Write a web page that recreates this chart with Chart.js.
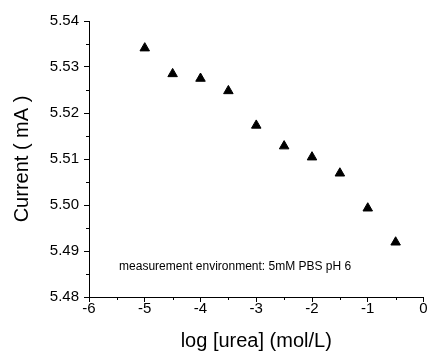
<!DOCTYPE html>
<html>
<head>
<meta charset="utf-8">
<script src="https://cdn.jsdelivr.net/npm/chart.js@4.4.1/dist/chart.umd.min.js"></script>
<style>
  html, body { margin: 0; padding: 0; background: #fff; }
  #wrap { width: 430px; height: 351px; position: relative; }
</style>
</head>
<body>
<div id="wrap"><canvas id="chart"></canvas></div>
<script>
// data
const logUrea = [-5, -4.5, -4, -3.5, -3, -2.5, -2, -1.5, -1, -0.5];
const current = [5.5341, 5.5285, 5.5275, 5.5248, 5.5173, 5.5128, 5.5104, 5.5069, 5.4993, 5.4919];
const xTicks = [-6, -5, -4, -3, -2, -1, 0];
const yTicks = [5.48, 5.49, 5.50, 5.51, 5.52, 5.53, 5.54];
const noteText = 'measurement environment: 5mM PBS pH 6';
const notePos = { x: -5.46, y: 5.4866 };

const FONT = '"Liberation Sans", Arial, Helvetica, sans-serif';

// minor ticks + note text
const extras = {
    id: 'extras',
    afterDraw(chart) {
        const ctx = chart.ctx;
        const xs = chart.scales.x, ys = chart.scales.y;
        ctx.save();
        ctx.strokeStyle = '#000';
        ctx.lineWidth = 1;
        ctx.beginPath();
        for (let i = 0; i < xTicks.length - 1; i++) {
            const px = Math.round(xs.getPixelForValue((xTicks[i] + xTicks[i + 1]) / 2)) + 0.5;
            ctx.moveTo(px, ys.bottom);
            ctx.lineTo(px, ys.bottom + 3);
        }
        for (let i = 0; i < yTicks.length - 1; i++) {
            const py = Math.round(ys.getPixelForValue((yTicks[i] + yTicks[i + 1]) / 2)) + 0.5;
            ctx.moveTo(xs.left, py);
            ctx.lineTo(xs.left - 3, py);
        }
        ctx.stroke();

        ctx.fillStyle = '#000';
        ctx.font = '12px ' + FONT;
        ctx.textBaseline = 'middle';
        ctx.fillText(noteText, xs.getPixelForValue(notePos.x), ys.getPixelForValue(notePos.y));
        ctx.restore();
    }
};

new Chart(document.getElementById('chart'), {
    type: 'scatter',
    data: {
        datasets: [{
            data: logUrea.map((x, i) => ({ x: x, y: current[i] })),
            pointStyle: 'triangle',
            pointRadius: 5.5,
            pointBackgroundColor: '#000',
            pointBorderColor: '#000',
            pointBorderWidth: 1
        }]
    },
    options: {
        responsive: true,
        maintainAspectRatio: false,
        animation: false,
        layout: { padding: { left: 0, right: 0, top: 21, bottom: 0 } },
        plugins: { legend: { display: false }, tooltip: { enabled: false } },
        scales: {
            x: {
                type: 'linear',
                min: -6, max: 0,
                afterBuildTicks: s => { s.ticks = xTicks.map(v => ({ value: v })); },
                afterFit: s => { s.height = 54; },
                grid: { drawOnChartArea: false, drawTicks: true, tickLength: 5, color: '#000' },
                border: { display: true, color: '#000', width: 1 },
                ticks: { color: '#000', font: { family: FONT, size: 15 }, padding: -2, maxRotation: 0,
                         callback: v => String(v) },
                title: { display: true, text: 'log [urea] (mol/L)', color: '#000',
                         font: { family: FONT, size: 20 }, padding: { top: 4, bottom: -2 } }
            },
            y: {
                type: 'linear',
                min: 5.48, max: 5.54,
                afterBuildTicks: s => { s.ticks = yTicks.map(v => ({ value: v })); },
                afterFit: s => { s.width = 89; },
                grid: { drawOnChartArea: false, drawTicks: true, tickLength: 5, color: '#000' },
                border: { display: true, color: '#000', width: 1 },
                ticks: { color: '#000', font: { family: FONT, size: 15 }, padding: 5,
                         callback: v => v.toFixed(2) },
                title: { display: true, text: 'Current ( mA )', color: '#000',
                         font: { family: FONT, size: 20 }, padding: { top: 10, bottom: 0 } }
            }
        }
    },
    plugins: [extras]
});
</script>
</body>
</html>
